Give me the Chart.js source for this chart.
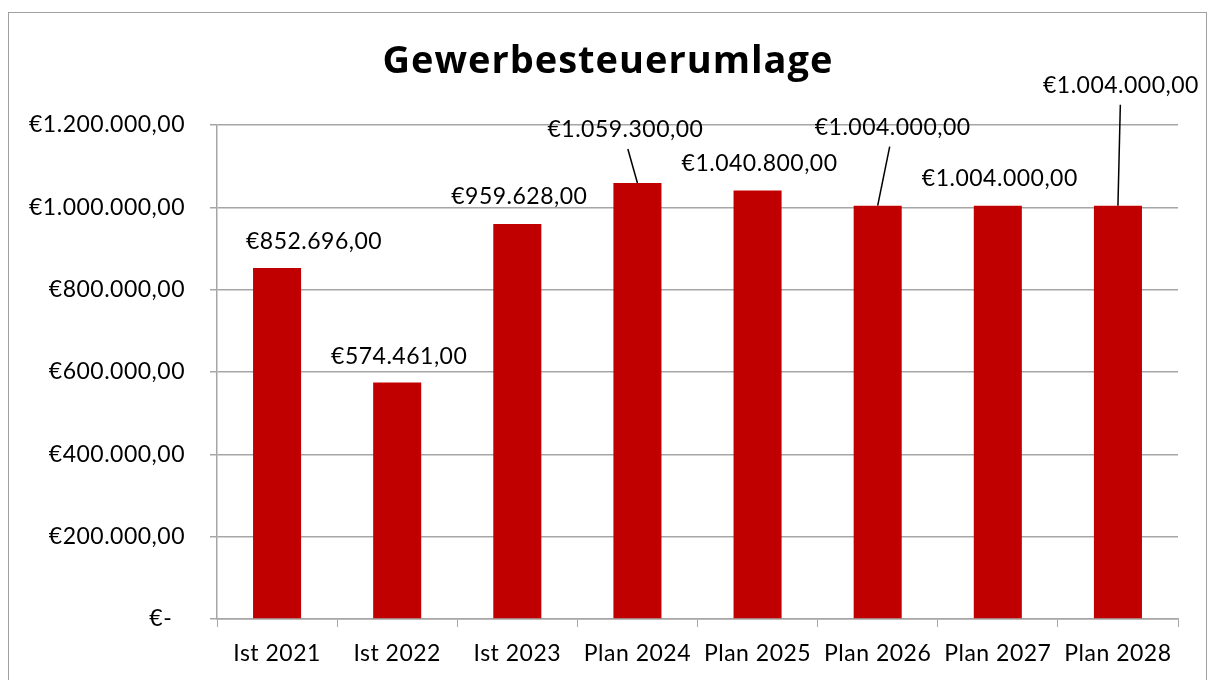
<!DOCTYPE html>
<html>
<head>
<meta charset="utf-8">
<script src="https://cdn.jsdelivr.net/npm/chart.js@4/dist/chart.umd.min.js"></script>
<style>
  html, body { margin: 0; padding: 0; background: #fff; }
  #wrap { position: relative; width: 1213px; height: 680px; }
</style>
</head>
<body>
<div id="wrap"><canvas id="myChart" width="1213" height="680"></canvas></div>
<script>
'use strict';

const chartTitle = 'Gewerbesteuerumlage';

let categories = [
  'Ist 2021', 'Ist 2022', 'Ist 2023', 'Plan 2024',
  'Plan 2025', 'Plan 2026', 'Plan 2027', 'Plan 2028',
];

let values = [852696, 574461, 959628, 1059300, 1040800, 1004000, 1004000, 1004000];

let yTicks = [0, 200000, 400000, 600000, 800000, 1000000, 1200000];

// where each value label sits relative to the top of its bar (px), like the moved labels in the original
let labelShift = [
  [37, -26], [2, -26], [2, -27], [-12, -53],
  [2, -27], [15, -78], [2, -27], [3, -120],
];

const fontName = 'Lato, "Open Sans", sans-serif';
const gridGrey = '#a6a6a6';

function euro(n) {
  if (n === 0) return '€-  ';
  let whole = Math.round(n).toString().replace(/\B(?=(\d{3})+(?!\d))/g, '.');
  return '€' + whole + ',00';
}

// outer frame + title, and a bit of letter spacing so Lato is as wide as the original font
const framePlugin = {
  id: 'frame',
  beforeDraw(chart) {
    const ctx = chart.ctx;
    ctx.letterSpacing = '0.5px';
    ctx.save();
    ctx.strokeStyle = '#a0a0a0';
    ctx.lineWidth = 1;
    ctx.strokeRect(8.5, 12.5, 1198, 700);
    ctx.fillStyle = '#000';
    ctx.font = 'bold 38px "Open Sans", Lato, sans-serif';
    ctx.letterSpacing = '1px';
    ctx.textAlign = 'center';
    ctx.textBaseline = 'middle';
    ctx.fillText(chartTitle, 608, 62);
    ctx.restore();
  }
};

// value labels with leader lines
const labelPlugin = {
  id: 'valueLabels',
  afterDatasetsDraw(chart) {
    const ctx = chart.ctx;
    const meta = chart.getDatasetMeta(0);
    ctx.save();
    ctx.font = '23px ' + fontName;
    ctx.fillStyle = '#000';
    ctx.textAlign = 'center';
    ctx.textBaseline = 'middle';
    meta.data.forEach(function (bar, i) {
      let dx = labelShift[i][0];
      let dy = labelShift[i][1];
      let lx = bar.x + dx;
      let ly = bar.y + dy;
      if (dy < -40) {
        ctx.strokeStyle = '#000';
        ctx.lineWidth = 1.5;
        ctx.beginPath();
        ctx.moveTo(bar.x + dx * 0.8, ly + 19);
        ctx.lineTo(bar.x, bar.y);
        ctx.stroke();
      }
      ctx.fillText(euro(values[i]), lx, ly);
    });
    ctx.restore();
  }
};

let ctx = document.getElementById('myChart').getContext('2d');
let myChart = new Chart(ctx, {
  type: 'bar',
  data: {
    labels: categories,
    datasets: [{
      label: chartTitle,
      data: values,
      backgroundColor: '#c00000',
      barPercentage: 0.4,
      categoryPercentage: 1,
    }]
  },
  options: {
    responsive: false,
    animation: false,
    layout: { padding: { left: 0, right: 35, top: 125, bottom: 0 } },
    plugins: {
      legend: { display: false },
      title: { display: false },
      tooltip: { enabled: false },
    },
    scales: {
      x: {
        grid: {
          offset: true,
          drawOnChartArea: false,
          drawTicks: true,
          tickLength: 8,
          color: gridGrey,
        },
        border: { color: gridGrey, width: 1.5 },
        ticks: {
          color: '#000',
          font: { family: fontName, size: 23 },
          padding: 13,
          maxRotation: 0,
          autoSkip: false,
        },
        afterFit(scale) { scale.height = 61; },
      },
      y: {
        min: 0,
        max: 1200000,
        afterBuildTicks(scale) {
          scale.ticks = yTicks.map(v => ({ value: v }));
        },
        grid: {
          color: gridGrey,
          lineWidth: 1.5,
          tickLength: 7,
        },
        border: { color: gridGrey, width: 1.5 },
        ticks: {
          color: '#000',
          font: { family: fontName, size: 23 },
          padding: 25,
          callback: v => euro(v),
        },
        afterFit(scale) { scale.width = 217; },
      }
    }
  },
  plugins: [framePlugin, labelPlugin]
});
</script>
</body>
</html>
